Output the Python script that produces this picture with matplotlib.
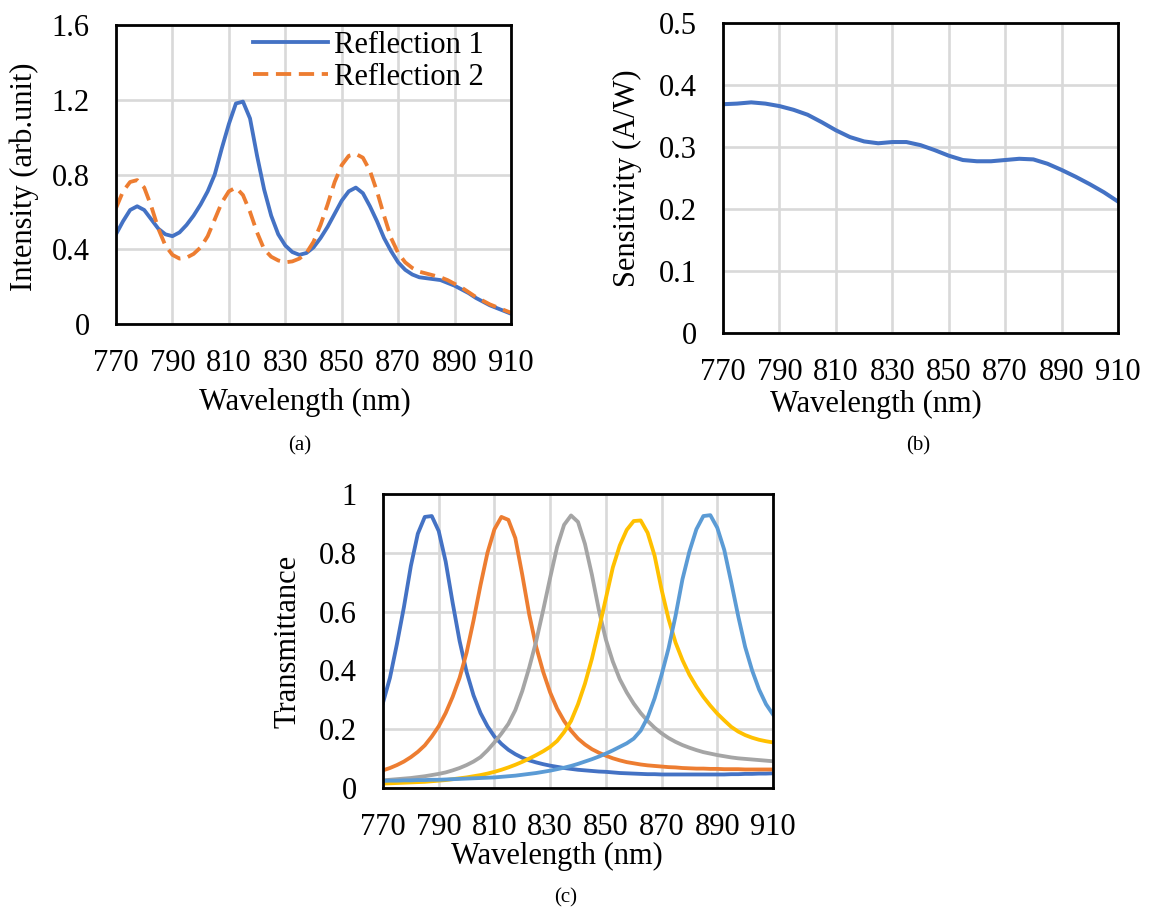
import numpy as np
import matplotlib
matplotlib.use("Agg")
import matplotlib.pyplot as plt

plt.rcParams['font.family'] = ['Liberation Serif', 'DejaVu Serif']

W, H = 1150, 913

# shared sampling grid for (a) and (c), 2.5 nm
wl = np.arange(770, 910.1, 2.5)

# (a) reflection spectra
refl_1 = [0.48, 0.55, 0.61, 0.63, 0.61, 0.56, 0.51, 0.48, 0.47, 0.49,
          0.53, 0.58, 0.64, 0.71, 0.80, 0.94, 1.07, 1.18, 1.19, 1.10,
          0.90, 0.72, 0.58, 0.48, 0.42, 0.385, 0.37, 0.38, 0.41, 0.46,
          0.52, 0.59, 0.66, 0.71, 0.73, 0.70, 0.63, 0.55, 0.46, 0.39,
          0.33, 0.29, 0.265, 0.25, 0.245, 0.24, 0.235, 0.22, 0.205, 0.185,
          0.165, 0.14, 0.12, 0.10, 0.085, 0.07, 0.055]
refl_2 = [0.62, 0.71, 0.76, 0.77, 0.73, 0.63, 0.51, 0.42, 0.37, 0.35,
          0.355, 0.375, 0.41, 0.47, 0.56, 0.65, 0.71, 0.73, 0.69, 0.60,
          0.49, 0.40, 0.36, 0.34, 0.33, 0.335, 0.35, 0.38, 0.44, 0.53,
          0.64, 0.76, 0.85, 0.90, 0.91, 0.89, 0.82, 0.71, 0.58, 0.46,
          0.38, 0.33, 0.30, 0.28, 0.27, 0.26, 0.25, 0.235, 0.215, 0.195,
          0.17, 0.145, 0.125, 0.105, 0.09, 0.075, 0.06]

# (b) sensitivity, 5 nm steps
wl_b = np.arange(770, 910.1, 5)
sens = [0.369, 0.370, 0.372, 0.370, 0.366, 0.360, 0.352, 0.340, 0.327, 0.316,
        0.309, 0.306, 0.308, 0.308, 0.303, 0.295, 0.286, 0.279, 0.277, 0.277,
        0.279, 0.281, 0.280, 0.273, 0.263, 0.252, 0.240, 0.227, 0.212]

# (c) filter transmittance
trans_1 = [0.29, 0.375, 0.49, 0.615, 0.755, 0.865, 0.922, 0.925, 0.874, 0.77,
           0.63, 0.50, 0.395, 0.315, 0.255, 0.21, 0.175, 0.15, 0.13, 0.115,
           0.103, 0.094, 0.087, 0.081, 0.076, 0.072, 0.068, 0.065, 0.062, 0.060,
           0.058, 0.056, 0.055, 0.053, 0.051, 0.050, 0.049, 0.048, 0.047, 0.047,
           0.046, 0.046, 0.046, 0.046, 0.046, 0.046, 0.046, 0.046, 0.046, 0.046,
           0.047, 0.047, 0.048, 0.048, 0.049, 0.049, 0.050]
trans_2 = [0.06, 0.068, 0.078, 0.09, 0.105, 0.123, 0.145, 0.175, 0.21, 0.255,
           0.31, 0.375, 0.46, 0.57, 0.69, 0.80, 0.88, 0.922, 0.912, 0.85,
           0.725, 0.59, 0.48, 0.395, 0.325, 0.27, 0.228, 0.195, 0.168, 0.148,
           0.132, 0.12, 0.11, 0.101, 0.094, 0.088, 0.084, 0.080, 0.077, 0.075,
           0.073, 0.071, 0.070, 0.068, 0.067, 0.066, 0.066, 0.065, 0.065, 0.064,
           0.064, 0.064, 0.063, 0.063, 0.063, 0.063, 0.063]
trans_3 = [0.026, 0.028, 0.030, 0.032, 0.034, 0.037, 0.040, 0.044, 0.048, 0.053,
           0.060, 0.068, 0.078, 0.090, 0.105, 0.128, 0.155, 0.185, 0.218, 0.265,
           0.33, 0.41, 0.50, 0.605, 0.715, 0.82, 0.895, 0.927, 0.905, 0.83,
           0.725, 0.605, 0.505, 0.43, 0.37, 0.325, 0.287, 0.255, 0.228, 0.205,
           0.186, 0.17, 0.157, 0.146, 0.137, 0.129, 0.122, 0.117, 0.112, 0.108,
           0.104, 0.101, 0.099, 0.097, 0.095, 0.093, 0.091]
trans_4 = [0.015, 0.016, 0.017, 0.018, 0.019, 0.020, 0.021, 0.023, 0.025, 0.027,
           0.030, 0.033, 0.036, 0.040, 0.044, 0.049, 0.055, 0.062, 0.070, 0.079,
           0.089, 0.100, 0.112, 0.125, 0.140, 0.160, 0.19, 0.228, 0.285, 0.355,
           0.44, 0.54, 0.645, 0.75, 0.825, 0.878, 0.908, 0.91, 0.868, 0.79,
           0.675, 0.575, 0.495, 0.435, 0.385, 0.345, 0.31, 0.28, 0.253, 0.23,
           0.208, 0.192, 0.18, 0.171, 0.164, 0.159, 0.155]
trans_5 = [0.024, 0.025, 0.025, 0.026, 0.026, 0.027, 0.027, 0.028, 0.028, 0.029,
           0.030, 0.031, 0.032, 0.033, 0.034, 0.035, 0.036, 0.038, 0.040, 0.042,
           0.045, 0.048, 0.051, 0.055, 0.059, 0.064, 0.069, 0.075, 0.082, 0.090,
           0.098, 0.107, 0.117, 0.128, 0.14, 0.152, 0.168, 0.195, 0.24, 0.305,
           0.385, 0.475, 0.585, 0.71, 0.805, 0.88, 0.925, 0.928, 0.885, 0.81,
           0.70, 0.585, 0.48, 0.40, 0.335, 0.285, 0.25]

x_ticks = [770, 790, 810, 830, 850, 870, 890, 910]
c_colors = ['#4472C4', '#ED7D31', '#A5A5A5', '#FFC000', '#5B9BD5']

TICK_FS = 22
LABEL_FS = 22
CAP_FS = 15
GRID = '#D9D9D9'


def fx(x):
    return x / W


def fy(y):
    return 1 - y / H


def make_axes(fig, l, t, r, b):
    """axes from pixel box (left, top, right, bottom)"""
    ax = fig.add_axes([fx(l), fy(b), (r - l) / W, (b - t) / H])
    ax.set_xlim(770, 910)
    ax.set_xticks(x_ticks)
    ax.grid(True, color=GRID, lw=1.9)
    ax.set_axisbelow(True)
    for s in ax.spines.values():
        s.set_linewidth(2.0)
        s.set_color('black')
    ax.tick_params(length=0, labelsize=TICK_FS)
    ax.tick_params(axis='x', pad=18)
    ax.tick_params(axis='y', pad=19)
    return ax


fig = plt.figure(figsize=(W / 100, H / 100), dpi=100)

# (a)
ax_a = make_axes(fig, 116, 25, 511, 324)
ax_a.plot(wl, refl_1, color='#4472C4', lw=2.75, label='Reflection 1')
ax_a.plot(wl, refl_2, color='#ED7D31', lw=2.75, ls=(0, (4, 2)),
          dash_capstyle='butt', label='Reflection 2')
ax_a.set_ylim(0, 1.6)
ax_a.set_yticks([0, 0.4, 0.8, 1.2, 1.6])
ax_a.set_yticklabels(['0', '0.4', '0.8', '1.2', '1.6'])
ax_a.legend(loc='upper left', bbox_to_anchor=(0.332, 1.0), frameon=False,
            fontsize=LABEL_FS, borderaxespad=0, borderpad=0.2,
            handlelength=2.45, handletextpad=0.2, labelspacing=0.1)
fig.text(fx(24), fy(177), 'Intensity (arb.unit)', rotation=90,
         ha='center', va='center', fontsize=LABEL_FS)
fig.text(fx(305), fy(402), 'Wavelength (nm)', ha='center', va='center',
         fontsize=LABEL_FS)
fig.text(fx(300), fy(446), '(a)', ha='center', va='center', fontsize=CAP_FS)

# (b)
ax_b = make_axes(fig, 723, 23, 1118, 333)
ax_b.plot(wl_b, sens, color='#4472C4', lw=2.9)
ax_b.set_ylim(0, 0.5)
ax_b.set_yticks([0, 0.1, 0.2, 0.3, 0.4, 0.5])
ax_b.set_yticklabels(['0', '0.1', '0.2', '0.3', '0.4', '0.5'])
fig.text(fx(627), fy(178), 'Sensitivity (A/W)', rotation=90,
         ha='center', va='center', fontsize=LABEL_FS)
fig.text(fx(876), fy(404), 'Wavelength (nm)', ha='center', va='center',
         fontsize=LABEL_FS)
fig.text(fx(918), fy(446), '(b)', ha='center', va='center', fontsize=CAP_FS)

# (c)
ax_c = make_axes(fig, 383, 494, 773, 788)
for vals, col in zip([trans_1, trans_2, trans_3, trans_4, trans_5], c_colors):
    ax_c.plot(wl, vals, color=col, lw=2.75, solid_joinstyle='round')
ax_c.set_ylim(0, 1)
ax_c.set_yticks([0, 0.2, 0.4, 0.6, 0.8, 1.0])
ax_c.set_yticklabels(['0', '0.2', '0.4', '0.6', '0.8', '1'])
fig.text(fx(288), fy(641), 'Transmittance', rotation=90,
         ha='center', va='center', fontsize=LABEL_FS)
fig.text(fx(557), fy(856), 'Wavelength (nm)', ha='center', va='center',
         fontsize=LABEL_FS)
fig.text(fx(566), fy(898), '(c)', ha='center', va='center', fontsize=CAP_FS)

fig.savefig('out.png', dpi=100)
